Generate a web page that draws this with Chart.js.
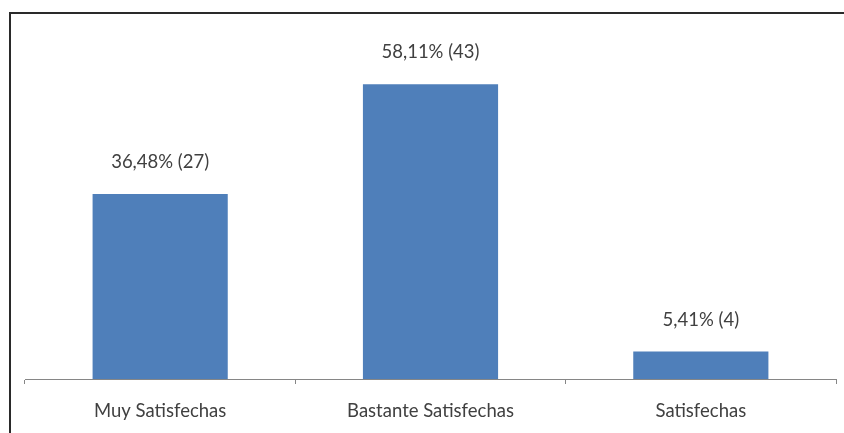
<!DOCTYPE html>
<html>
<head>
<meta charset="utf-8">
<script src="https://cdn.jsdelivr.net/npm/chart.js@4/dist/chart.umd.min.js"></script>
<style>
html,body{margin:0;padding:0;background:#fff;}
#wrap{position:relative;width:844px;height:433px;}
#frame{position:absolute;left:9px;top:12px;right:0;bottom:0;border-top:2px solid #2a2a2a;border-left:2px solid #2a2a2a;pointer-events:none;}
canvas{position:absolute;left:0;top:0;}
</style>
</head>
<body>
<div id="wrap">
<canvas id="c" width="844" height="433"></canvas>
<div id="frame"></div>
</div>
<script>
const categories = ["Muy Satisfechas", "Bastante Satisfechas", "Satisfechas"];
const percentages = [36.48, 58.11, 5.41];
const counts = [27, 43, 4];
const yMax = 70;

const FONT = "Lato, 'Liberation Sans', sans-serif";

const labelPlugin = {
  id: 'barLabels',
  afterDatasetsDraw(chart) {
    const ctx = chart.ctx;
    const meta = chart.getDatasetMeta(0);
    ctx.save();
    ctx.font = "18.5px " + FONT;
    ctx.fillStyle = "#404040";
    ctx.textAlign = "center";
    ctx.textBaseline = "middle";
    meta.data.forEach((bar, i) => {
      const txt = percentages[i].toFixed(2).replace('.', ',') + "% (" + counts[i] + ")";
      ctx.fillText(txt, bar.x, bar.y - 32);
    });
    ctx.restore();
  }
};

new Chart(document.getElementById('c'), {
  type: 'bar',
  data: {
    labels: categories,
    datasets: [{
      data: percentages,
      backgroundColor: '#4F7FBA',
      borderWidth: 0,
      barPercentage: 0.5,
      categoryPercentage: 1.0
    }]
  },
  options: {
    responsive: false,
    animation: false,
    layout: { padding: { left: 25, right: 8, top: 24, bottom: 0 } },
    plugins: { legend: { display: false }, tooltip: { enabled: false } },
    scales: {
      x: {
        afterFit(scale) { scale.height = 54; },
        grid: { display: true, drawOnChartArea: false, drawTicks: true, tickLength: 5, color: '#868686', offset: true },
        border: { display: true, color: '#868686', width: 1 },
        ticks: { color: '#404040', font: { family: FONT, size: 18.5 }, padding: 16, maxRotation: 0 }
      },
      y: {
        display: false,
        min: 0,
        max: yMax
      }
    }
  },
  plugins: [labelPlugin]
});
</script>
</body>
</html>
